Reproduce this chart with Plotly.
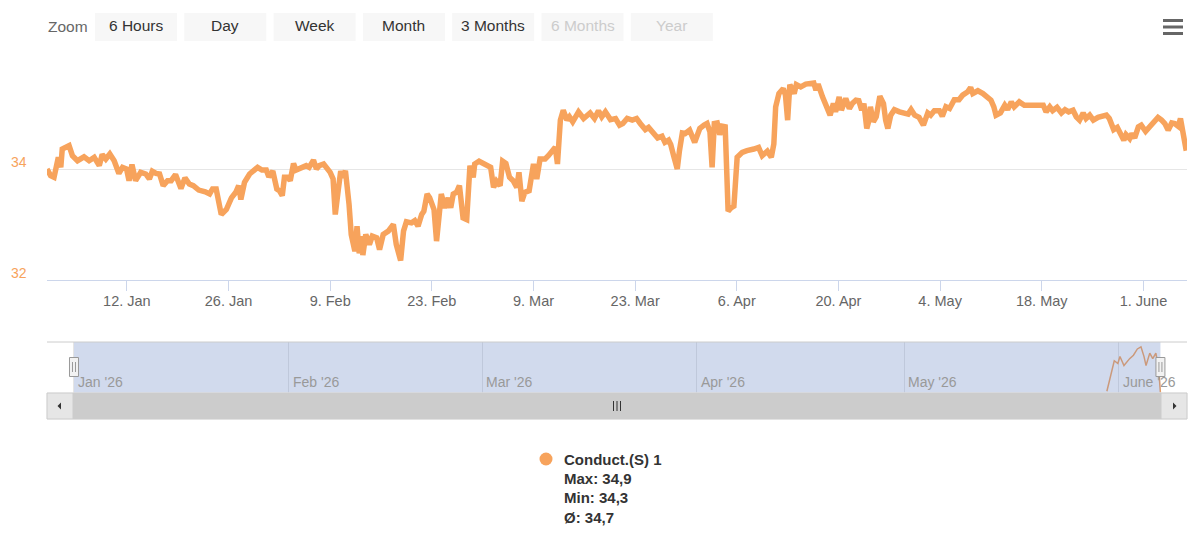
import plotly.graph_objects as go
import pandas as pd

# ---------------- data ----------------
START = pd.Timestamp("2026-01-01")
RANGE_DAYS = 157.0            # main chart extent (days after START)
NAV_RANGE_DAYS = (-3.9, 160.84)

main_days = [
    0, 0.5, 0.97, 1.56, 1.9, 2.1, 3.04, 3.5, 4.2, 5.1, 5.8, 6.5, 7.2, 7.6, 8.1, 8.65, 9.25, 9.9,
    10.4, 10.95, 11.3, 11.7, 12.2, 12.9, 13.6, 14.1, 14.5, 15.0, 15.5, 16.0, 16.6, 17.1, 17.7,
    18.45, 19.0, 19.6, 20.15, 20.9, 21.8, 22.4, 22.8, 23.3, 24.0, 24.7, 25.4, 26.0, 26.4, 26.7,
    27.2, 27.9, 29.0, 29.6, 30.2, 30.55, 31.1, 31.65, 32.0, 32.4, 32.7, 33.2, 33.5, 33.95, 34.3,
    35.2, 35.7, 36.1, 36.7, 37.1, 37.5, 38.1, 38.55, 39.0, 39.4, 39.7, 40.1, 40.45, 40.8, 41.1,
    41.6, 41.9, 42.4, 42.7, 43.0, 43.3, 43.5, 43.9, 44.4, 44.8, 45.4, 45.8, 46.3, 47.0, 47.7,
    48.1, 48.7, 49.1, 49.5, 50.2, 50.65, 51.1, 51.6, 51.9, 52.35, 52.7, 53.3, 53.65,
    54.3, 54.8, 55.25, 55.6, 55.95, 56.4, 56.8, 57.1, 57.3, 57.8, 58.25, 58.7, 58.9, 59.5, 60.1,
    60.8, 61.1, 61.5, 61.9, 62.4, 62.75, 63.2, 63.7, 64.2, 64.7, 65.0, 65.4, 65.8, 66.4, 67.0,
    67.45, 67.9, 68.6, 69.05, 69.5, 70.0, 70.3, 70.7, 71.1, 71.6, 71.95, 72.4, 73.2, 73.9, 74.8,
    75.4, 75.95, 76.4, 76.9, 77.6, 78.3, 78.85, 79.3, 79.9, 80.6, 81.2, 81.7, 82.4, 82.85, 83.45,
    84.1, 84.7, 85.1, 85.6, 85.9, 86.3, 86.8, 87.1, 87.5, 87.9, 88.5, 89.2, 89.9, 90.5, 90.9,
    91.3, 91.6, 91.9, 92.3, 92.65, 93.0, 93.4, 93.8, 94.2, 94.6, 95.05, 95.75, 96.4, 96.9, 97.35,
    98.0, 98.5, 99.2, 99.75, 100.1, 100.35, 100.8, 101.4, 101.7, 102.0, 102.3, 102.9, 103.2,
    103.8, 104.5, 105.2, 105.6, 105.9, 106.2, 106.8,
    107.5, 107.85, 108.3, 108.6, 109.1, 109.4, 110.0, 110.5, 110.9, 111.4, 111.8, 112.2, 112.5,
    112.9, 113.2, 113.4, 113.8, 114.2, 114.7, 115.2, 115.5, 115.8, 116.2, 116.7, 117.4, 118.0,
    118.6, 119.0, 119.5, 120.1, 120.7, 121.3, 121.7, 122.2, 122.9, 123.3, 123.8, 124.3, 124.95,
    125.6, 126.1, 126.8, 127.2, 127.5, 128.2, 128.9, 129.6, 130.0, 130.4, 130.7, 131.3, 131.9,
    132.3, 132.8, 133.2, 133.9, 134.6, 135.3, 136.0, 136.7, 137.2, 137.6, 138.1, 138.5, 139.1,
    139.7, 140.2, 140.7, 141.3, 141.75, 142.2, 142.7, 143.1, 143.6, 144.1, 144.75, 145.4, 145.9,
    146.3, 146.65, 146.9, 147.4, 147.8, 148.3, 148.6, 149.1, 149.4, 149.8, 150.3, 150.7, 151.3,
    151.9, 152.5, 153.0, 153.5, 153.95, 154.4, 154.9, 155.3, 155.8, 156.1, 156.5, 156.9,
]
main_vals = [
    34.00, 33.88, 33.85, 34.21, 34.03, 34.36, 34.42, 34.24, 34.15, 34.22, 34.15, 34.21, 34.06,
    34.26, 34.18, 34.27, 34.15, 33.92, 34.03, 34.00, 33.79, 34.08, 33.79, 33.94, 33.91, 33.82,
    33.96, 33.92, 33.91, 33.70, 33.79, 33.79, 33.90, 33.65, 33.84, 33.73, 33.70, 33.62, 33.59,
    33.55, 33.64, 33.64, 33.18, 33.27, 33.48, 33.58, 33.70, 33.45, 33.76, 33.91, 34.03, 33.98,
    33.98, 33.86, 33.96, 33.64, 33.61, 33.52, 33.85, 33.85, 33.79, 34.10, 33.98, 34.04, 34.06,
    34.03, 34.16, 34.00, 34.06, 34.09, 34.03, 33.94, 33.82, 33.18, 33.61, 33.96, 33.85, 33.97,
    33.36, 32.82, 32.52, 32.97, 32.48, 32.79, 32.45, 32.82, 32.64, 32.79, 32.76, 32.55, 32.82,
    32.88, 33.00, 32.64, 32.35, 32.88, 33.05, 33.03, 33.07, 32.97, 33.18, 33.24, 33.55, 33.48,
    33.27, 32.70,
    33.55, 33.30, 33.48, 33.30, 33.55, 33.58, 33.70, 33.18, 33.12, 33.09, 34.06, 33.85, 34.09,
    34.14, 34.10, 34.06, 34.03, 33.67, 33.78, 33.70, 34.14, 34.10, 33.85, 33.79, 33.67, 33.94,
    33.42, 33.58, 33.61, 34.09, 33.82, 34.18, 34.18, 34.24, 34.33, 34.39, 34.09, 34.88, 35.06,
    34.88, 34.94, 34.85, 35.03, 34.91, 35.01, 34.91, 35.05, 34.94, 35.03, 34.89, 34.91, 34.79,
    34.82, 34.91, 34.88, 34.91, 34.82, 34.71, 34.75, 34.64, 34.56, 34.59, 34.48, 34.52, 34.44,
    34.24, 34.00, 34.33, 34.65, 34.64, 34.70, 34.48, 34.73, 34.79, 34.82, 34.67, 34.03, 34.82,
    34.83, 34.62, 34.77, 34.76, 33.24, 33.30, 33.33, 34.21, 34.30, 34.33, 34.36, 34.36, 34.39,
    34.24, 34.32, 34.21, 34.45, 35.12, 35.36, 35.45, 35.33, 34.88, 35.52, 35.36, 35.52, 35.48,
    35.53, 35.55, 35.55, 35.42, 35.53, 35.30,
    35.06, 34.97, 35.18, 35.03, 35.30, 35.06, 35.27, 35.09, 35.18, 35.24, 35.23, 35.06, 35.18,
    34.73, 34.88, 35.12, 34.85, 34.94, 35.31, 35.18, 34.88, 34.73, 34.97, 35.07, 35.03, 35.01,
    34.99, 35.07, 34.97, 34.93, 34.79, 35.01, 34.97, 35.05, 35.05, 34.95, 35.12, 35.09, 35.25,
    35.25, 35.33, 35.39, 35.47, 35.36, 35.41, 35.36, 35.30, 35.24, 35.12, 34.97, 35.01, 35.15,
    35.07, 35.21, 35.12, 35.21, 35.15, 35.15, 35.13, 35.15, 35.15, 35.03, 35.12, 35.05, 35.11,
    35.01, 35.07, 35.03, 35.06, 34.94, 34.88, 35.01, 34.91, 34.97, 34.88, 34.93, 34.95, 34.97,
    34.91, 34.79, 34.71, 34.75, 34.65, 34.52, 34.62, 34.55, 34.64, 34.56, 34.76, 34.79, 34.68,
    34.76, 34.85, 34.93, 34.88, 34.82, 34.70, 34.83, 34.82, 34.77, 34.91, 34.64, 34.33,
]

nav_days = [149.26, 150.33, 150.85, 151.15, 151.73, 152.55, 153.1, 153.67, 154.19, 154.63,
            154.92, 155.46, 155.89, 156.34, 156.73, 157.0]
nav_vals = [34.27, 34.71, 34.67, 34.77, 34.64, 34.74, 34.79, 34.88, 34.91, 34.77,
            34.64, 34.82, 34.74, 34.82, 34.61, 34.25]

x_tick_dates = ["2026-01-12", "2026-01-26", "2026-02-09", "2026-02-23", "2026-03-09",
                "2026-03-23", "2026-04-06", "2026-04-20", "2026-05-04", "2026-05-18",
                "2026-06-01"]
x_tick_labels = ["12. Jan", "26. Jan", "9. Feb", "23. Feb", "9. Mar", "23. Mar", "6. Apr",
                 "20. Apr", "4. May", "18. May", "1. June"]
y_ticks = [32, 34, 36]
y_label_vals = [32, 34]

nav_month_dates = ["2026-01-01", "2026-02-01", "2026-03-01", "2026-04-01", "2026-05-01",
                   "2026-06-01"]
nav_month_labels = ["Jan '26", "Feb '26", "Mar '26", "Apr '26", "May '26", "June '26"]

button_labels = ["6 Hours", "Day", "Week", "Month", "3 Months", "6 Months", "Year"]
button_enabled = [True, True, True, True, True, False, False]

series_name = "Conduct.(S) 1"
stat_labels = ["Max: 34,9", "Min: 34,3", "Ø: 34,7"]

# ---------------- styling ----------------
W, H = 1200, 555
FONT = "Liberation Sans, Arial, Helvetica, sans-serif"
ORANGE = "#f7a35c"


def px(x):
    return x / W


def py(y):
    return 1 - y / H


def day(d):
    return START + pd.Timedelta(days=d)


main_x = [day(d) for d in main_days]
nav_x = [day(d) for d in nav_days]

fig = go.Figure()
fig.add_trace(go.Scatter(x=main_x, y=main_vals, mode="lines", name=series_name,
                         line=dict(color=ORANGE, width=5.5), xaxis="x", yaxis="y",
                         hoverinfo="skip"))
fig.add_trace(go.Scatter(x=nav_x, y=nav_vals, mode="lines", name="nav",
                         line=dict(color=ORANGE, width=1.5), xaxis="x2", yaxis="y2",
                         hoverinfo="skip"))

shapes = []
annotations = []

# range selector
annotations.append(dict(text="Zoom", x=px(46), y=py(27), xref="paper", yref="paper",
                        xanchor="left", yanchor="middle", showarrow=False,
                        font=dict(family=FONT, size=15.5, color="#666666")))
for i, (lab, en) in enumerate(zip(button_labels, button_enabled)):
    x0 = 95 + i * 89.3
    x1 = x0 + 82
    shapes.append(dict(type="rect", xref="paper", yref="paper", x0=px(x0), x1=px(x1),
                       y0=py(41), y1=py(13), fillcolor="#f7f7f7", line=dict(width=0),
                       layer="above"))
    annotations.append(dict(text=lab, x=px((x0 + x1) / 2), y=py(26), xref="paper",
                            yref="paper", xanchor="center", yanchor="middle", showarrow=False,
                            font=dict(family=FONT, size=15.5,
                                      color="#333333" if en else "#cccccc")))

# hamburger menu
for yy in (20.5, 27, 33.5):
    shapes.append(dict(type="line", xref="paper", yref="paper", x0=px(1163), x1=px(1183),
                       y0=py(yy), y1=py(yy), line=dict(color="#666666", width=3),
                       layer="above"))

# y tick labels (Highcharts style, above gridline)
for v in y_label_vals:
    annotations.append(dict(text=str(v), x=px(29), y=v, xref="paper", yref="y",
                            xanchor="right", yanchor="middle", yshift=7, showarrow=False,
                            font=dict(family=FONT, size=14, color=ORANGE)))

# navigator
NAV_TOP, NAV_BOT = 342, 393
shapes.append(dict(type="rect", xref="x2", yref="paper", x0=day(0), x1=day(RANGE_DAYS),
                   y0=py(NAV_BOT), y1=py(NAV_TOP), fillcolor="rgba(102,133,194,0.3)",
                   line=dict(width=0), layer="above"))
shapes.append(dict(type="line", xref="paper", yref="paper", x0=px(47), x1=px(1187),
                   y0=py(NAV_TOP), y1=py(NAV_TOP), line=dict(color="#cccccc", width=1),
                   layer="above"))
for dd in (0, RANGE_DAYS):
    shapes.append(dict(type="rect", xref="x2", yref="paper", xsizemode="pixel",
                       xanchor=day(dd), x0=-4.5, x1=4.5, y0=py(376.5), y1=py(357.5),
                       fillcolor="#f2f2f2", line=dict(color="#999999", width=1),
                       layer="above"))
    for off in (-1.5, 1.5):
        shapes.append(dict(type="line", xref="x2", yref="paper", xsizemode="pixel",
                           xanchor=day(dd), x0=off, x1=off, y0=py(372), y1=py(362),
                           line=dict(color="#999999", width=1), layer="above"))
for d, lab in zip(nav_month_dates, nav_month_labels):
    annotations.append(dict(text=lab, x=d, y=py(382), xref="x2", yref="paper",
                            xanchor="left", yanchor="middle", xshift=2, showarrow=False,
                            font=dict(family=FONT, size=14, color="#999999")))

# scrollbar
SB_TOP, SB_BOT = 393, 419
shapes.append(dict(type="rect", xref="paper", yref="paper", x0=px(47), x1=px(1187),
                   y0=py(SB_BOT), y1=py(SB_TOP), fillcolor="#f2f2f2",
                   line=dict(color="#f2f2f2", width=1), layer="above"))
shapes.append(dict(type="rect", xref="paper", yref="paper", x0=px(73), x1=px(1161),
                   y0=py(SB_BOT), y1=py(SB_TOP), fillcolor="#cccccc",
                   line=dict(color="#cccccc", width=1), layer="above"))
for bx0, bx1 in ((47, 73), (1161, 1187)):
    shapes.append(dict(type="rect", xref="paper", yref="paper", x0=px(bx0), x1=px(bx1),
                       y0=py(SB_BOT), y1=py(SB_TOP), fillcolor="#e6e6e6",
                       line=dict(color="#cccccc", width=1), layer="above"))
shapes.append(dict(type="path", xref="paper", yref="paper",
                   path=f"M {px(57.5)},{py(406)} L {px(61)},{py(402.5)} L {px(61)},{py(409.5)} Z",
                   fillcolor="#333333", line=dict(width=0), layer="above"))
shapes.append(dict(type="path", xref="paper", yref="paper",
                   path=f"M {px(1176.5)},{py(406)} L {px(1173)},{py(402.5)} L {px(1173)},{py(409.5)} Z",
                   fillcolor="#333333", line=dict(width=0), layer="above"))
for gx in (613.5, 617, 620.5):
    shapes.append(dict(type="line", xref="paper", yref="paper", x0=px(gx), x1=px(gx),
                       y0=py(411), y1=py(401), line=dict(color="#333333", width=1),
                       layer="above"))

# legend
shapes.append(dict(type="circle", xref="paper", yref="paper", x0=px(539.5), x1=px(552.5),
                   y0=py(465.5), y1=py(452.5), fillcolor=ORANGE, line=dict(width=0),
                   layer="above"))
annotations.append(dict(text=f"<b>{series_name}</b>", x=px(562), y=py(459), xref="paper",
                        yref="paper", xanchor="left", yanchor="middle", showarrow=False,
                        font=dict(family=FONT, size=15, color="#333333")))
for yy, lab in zip((478.5, 497.5, 517), stat_labels):
    annotations.append(dict(text=f"<b>{lab}</b>", x=px(562), y=py(yy), xref="paper",
                            yref="paper", xanchor="left", yanchor="middle", showarrow=False,
                            font=dict(family=FONT, size=15, color="#333333")))

fig.update_layout(
    width=W, height=H, autosize=False,
    margin=dict(l=0, r=0, t=0, b=0, pad=0),
    paper_bgcolor="white", plot_bgcolor="white",
    showlegend=False,
    font=dict(family=FONT, color="#666666"),
    xaxis=dict(type="date", domain=[px(47), px(1187)], anchor="y",
               range=[day(0), day(RANGE_DAYS)],
               tickvals=x_tick_dates, ticktext=x_tick_labels,
               ticks="outside", ticklen=10, tickcolor="#ccd6eb", tickwidth=1,
               ticklabelstandoff=-2,
               showline=True, linecolor="#ccd6eb", linewidth=1,
               showgrid=False, zeroline=False, fixedrange=True,
               tickfont=dict(family=FONT, size=14.5, color="#666666")),
    yaxis=dict(domain=[py(280), py(58)], anchor="x", range=[32, 36],
               tickvals=y_ticks, showticklabels=False, ticks="",
               showgrid=True, gridcolor="#e6e6e6", gridwidth=1,
               showline=False, zeroline=False, fixedrange=True),
    xaxis2=dict(type="date", domain=[px(47), px(1187)], anchor="y2",
                range=[day(NAV_RANGE_DAYS[0]), day(NAV_RANGE_DAYS[1])],
                tickvals=nav_month_dates, showticklabels=False, ticks="",
                showgrid=True, gridcolor="#e6e6e6", gridwidth=1,
                showline=False, zeroline=False, fixedrange=True),
    yaxis2=dict(domain=[py(NAV_BOT), py(NAV_TOP)], anchor="x2", range=[34.245, 34.98],
                showticklabels=False, showgrid=False, zeroline=False, ticks="",
                showline=False, fixedrange=True),
    shapes=shapes,
    annotations=annotations,
)

fig.write_html("out.html", config={"displayModeBar": False})
